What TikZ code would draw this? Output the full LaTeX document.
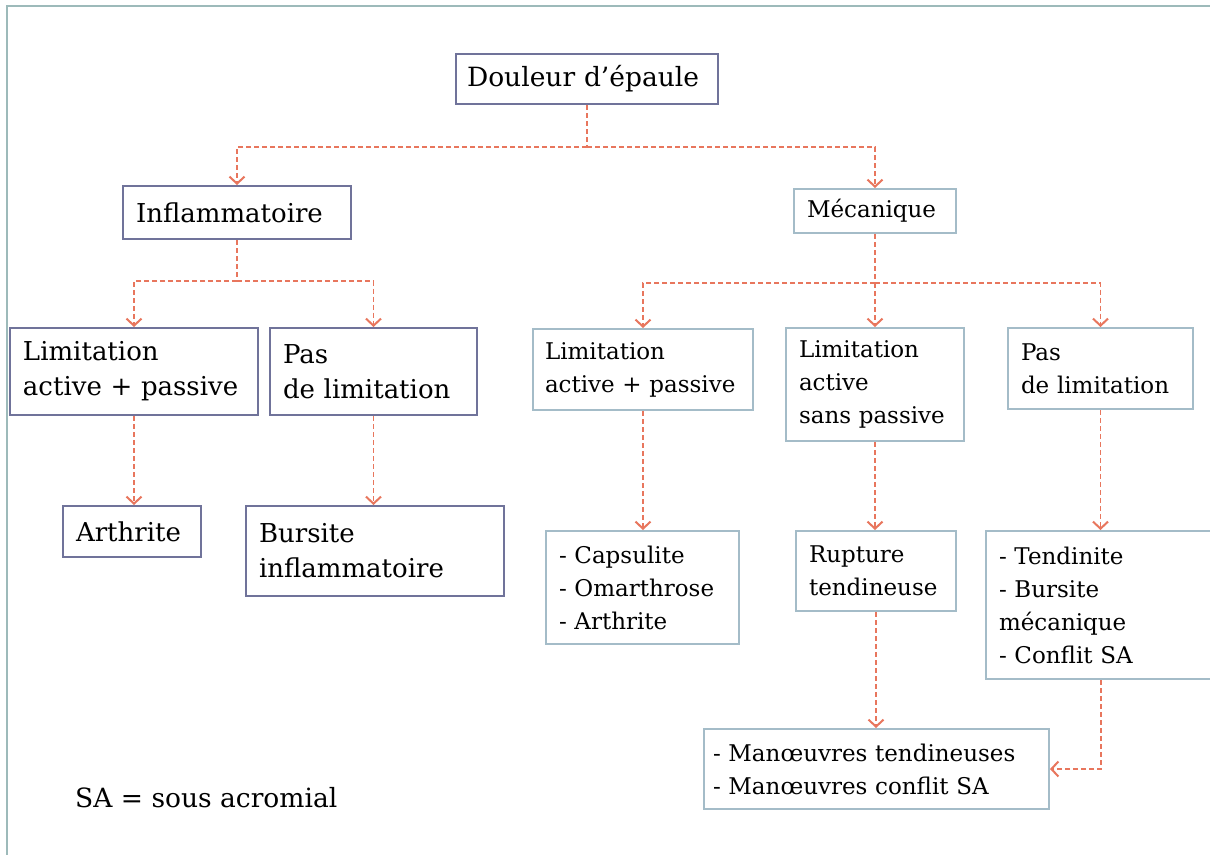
\documentclass[tikz,border=0pt]{standalone}
\usepackage{fontspec}
\setmainfont{DejaVu Serif}
\usetikzlibrary{arrows.meta}
\definecolor{darkb}{HTML}{70739A}
\definecolor{lightb}{HTML}{A4BCC8}
\definecolor{lineR}{HTML}{E8765D}
\definecolor{frameC}{HTML}{9DBABA}
\tikzset{
  box/.style={draw, line width=2pt, anchor=north west, inner xsep=13pt, inner ysep=2pt, align=left},
  lbox/.style={box, draw=darkb, font=\fontsize{26}{35}\selectfont},
  rbox/.style={box, draw=lightb, font=\fontsize{23}{33}\selectfont},
  dline/.style={draw=lineR, line width=1.8pt, dash pattern=on 5pt off 3pt},
  conn/.style={dline, -{Straight Barb[length=7pt,width=15pt,line width=2pt]}},
}
\begin{document}
\begin{tikzpicture}[x=1pt,y=-1pt]
\useasboundingbox (0,0) rectangle (1210,854);
\clip (0,0) rectangle (1210,854);
\fill[white] (0,0) rectangle (1210,854);
\draw[frameC, line width=2.5pt] (7,856) -- (7,6) -- (1212,6);

\node[lbox, minimum width=262pt, minimum height=50pt, text width=240pt, inner xsep=11pt, font=\fontsize{26.5}{35}\selectfont] (douleur) at (455,53) {Douleur d’épaule};
\node[lbox, minimum width=228pt, minimum height=53pt, text width=202pt] (inflam) at (122,185) {Inflammatoire};
\node[rbox, minimum width=162pt, minimum height=44pt, text width=136pt] (meca) at (793,188) {Mécanique};

\node[lbox, minimum width=248pt, minimum height=87pt, text width=222pt] (limL) at (9,327) {Limitation\\active + passive};
\node[lbox, minimum width=207pt, minimum height=87pt, text width=181pt] (pasL) at (269,327) {Pas\\de limitation};
\node[lbox, minimum width=138pt, minimum height=51pt, text width=112pt] (arth) at (62,505) {Arthrite};
\node[lbox, minimum width=258pt, minimum height=90pt, text width=232pt] (burs) at (245,505) {Bursite\\inflammatoire};

\node[rbox, minimum width=220pt, minimum height=81pt, text width=196pt, inner xsep=12pt] (limR) at (532,328) {Limitation\\active + passive};
\node[rbox, minimum width=178pt, minimum height=113pt, text width=152pt] (sansR) at (785,327) {Limitation\\active\\sans passive};
\node[rbox, minimum width=185pt, minimum height=81pt, text width=159pt] (pasR) at (1007,327) {Pas\\de limitation};

\node[rbox, minimum width=193pt, minimum height=113pt, text width=167pt] (caps) at (545,530) {- Capsulite\\- Omarthrose\\- Arthrite};
\node[rbox, minimum width=160pt, minimum height=80pt, text width=134pt] (rupt) at (795,530) {Rupture\\tendineuse};
\node[rbox, minimum width=230pt, minimum height=148pt, text width=204pt] (tend) at (985,530) {- Tendinite\\- Bursite\\mécanique\\- Conflit SA};
\node[rbox, minimum width=345pt, minimum height=80pt, text width=327pt, inner xsep=9pt] (man) at (703,728) {- Manœuvres tendineuses\\- Manœuvres conflit SA};

\node[anchor=west, inner sep=0pt, font=\fontsize{26.5}{30}\selectfont] (sa) at (75,798) {SA = sous acromial};

\draw[dline] (douleur.south) -- ++(0,42) coordinate (j1);
\draw[conn] (j1) -| (inflam.north);
\draw[conn] (j1) -| (meca.north);

\draw[dline] (inflam.south) -- ++(0,41) coordinate (j2);
\draw[conn] (j2) -| (limL.north);
\draw[conn] (j2) -| (pasL.north);

\draw[dline] (meca.south) -- ++(0,49) coordinate (j3);
\draw[conn] (j3) -| (limR.north);
\draw[conn] (j3) -| (sansR.north);
\draw[conn] (j3) -| (pasR.north);

\draw[conn] (limL.south) -- (limL.south |- arth.north);
\draw[conn] (pasL.south) -- (pasL.south |- burs.north);
\draw[conn] (limR.south) -- (limR.south |- caps.north);
\draw[conn] (sansR.south) -- (sansR.south |- rupt.north);
\draw[conn] (pasR.south) -- (pasR.south |- tend.north);
\draw[conn] (rupt.south) -- (rupt.south |- man.north);
\draw[conn] (tend.south) |- (man.east);
\end{tikzpicture}
\end{document}
